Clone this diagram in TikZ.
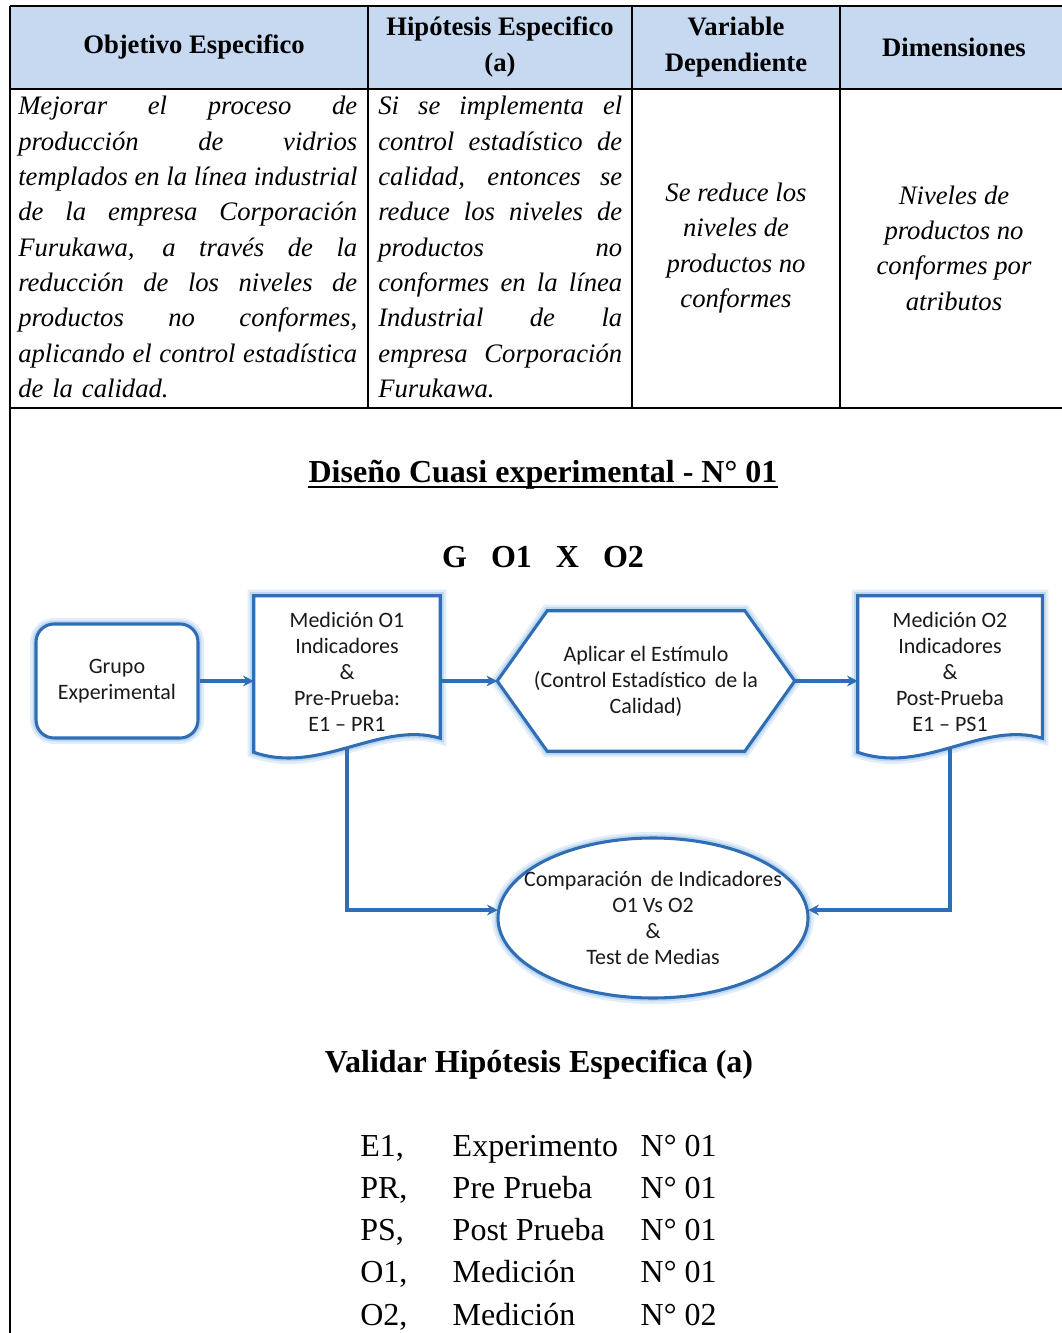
\documentclass[tikz,border=0pt]{standalone}
\usepackage{fontspec}
\setmainfont{Liberation Serif}
\newfontfamily\calibri{Carlito}
\usepackage{tikz}
\usetikzlibrary{arrows.meta,backgrounds}
\newlength\upx
\setlength\upx{0.75pt}
\definecolor{azul}{HTML}{2F6DB5}
\definecolor{brillo}{HTML}{9CC3E8}
\definecolor{cabecera}{HTML}{C6D9F1}
\definecolor{letra}{HTML}{1A1A1A}
% lineas justificadas a mano
\newcommand\jl[2]{\leavevmode\hbox to #1{\spaceskip=\fontdimen2\font plus 1fil\relax#2}}
\newcommand\ja{\jl{339\upx}}
\newcommand\jb{\jl{244\upx}}
\newcommand\documento[1]{%
  \draw[forma] (#1.north west) -- (#1.north east) -- ([yshift=10\upx]#1.south east)
    .. controls +(-60,-18) and +(66,23) .. ([yshift=-4\upx]#1.south west) -- cycle;}
\tikzset{
  tabla/.style   = {black,line width=1.3pt},
  gruesa/.style  = {black,line width=2.2pt},
  encab/.style   = {font=\fontsize{20}{26.5}\selectfont\bfseries,align=center,inner sep=0pt},
  celda/.style   = {font=\fontsize{20}{26.5}\selectfont\itshape,align=left,inner sep=0pt,
                    anchor=north west,text width=#1},
  celdac/.style  = {font=\fontsize{20}{26.5}\selectfont\itshape,align=center,inner sep=0pt},
  titulo/.style  = {font=\fontsize{24}{30}\selectfont\bfseries,inner sep=0pt,anchor=base},
  brilla/.style  = {preaction={draw=brillo,line width=12\upx,opacity=.3},
                    preaction={draw=brillo,line width=7\upx,opacity=.5}},
  forma/.style   = {draw=azul,line width=2.3pt,fill=white,brilla},
  caja/.style    = {font=\calibri\fontsize{16.5}{19.5}\selectfont,text=letra,align=center,inner sep=0pt},
  flecha/.style  = {-{Stealth[length=8pt,width=8pt]},azul,line width=2.3pt}
}

\begin{document}
\begin{tikzpicture}[x=0.75pt,y=-0.75pt]
  \useasboundingbox (0,0) rectangle (1062,1333);
  % tabla
  \fill[cabecera] (10,6) rectangle (1062,89);
  \draw[tabla] (10,6) -- (1062,6);
  \draw[gruesa] (10,89) -- (1062,89);
  \draw[gruesa] (10,408) -- (1062,408);
  \foreach \x in {368,632,840} { \draw[tabla] (\x,6) -- (\x,408); }
  \draw[tabla] (10,6) -- (10,1333);

  \node[encab] (h1) at (194,47) {Objetivo Especifico};
  \node[encab] (h2) at (500,47) {Hipótesis Especifico\\(a)};
  \node[encab] (h3) at (736,47) {Variable\\Dependiente};
  \node[encab] (h4) at (954,47) {Dimensiones};

  \node[celda=339\upx] (obj) at (18,96) {\ja{Mejorar el proceso de}\\
    \ja{producción de vidrios}\\\ja{templados en la línea industrial}\\
    \ja{de la empresa Corporación}\\\ja{Furukawa, a través de la}\\
    \ja{reducción de los niveles de}\\\ja{productos no conformes,}\\
    \ja{aplicando el control estadística}\\de la calidad.};
  \node[celda=244\upx] (hip) at (378,96) {\jb{Si se implementa el}\\
    \jb{control estadístico de}\\\jb{calidad, entonces se}\\
    \jb{reduce los niveles de}\\\jb{productos no}\\\jb{conformes en la línea}\\
    \jb{Industrial de la}\\\jb{empresa Corporación}\\Furukawa.};
  \node[celdac] (var) at (736,248) {Se reduce los\\niveles de\\productos no\\conformes};
  \node[celdac] (dim) at (954,248) {Niveles de\\productos no\\conformes por\\atributos};

  % diseño
  \node[titulo] (dis) at (543,482) {Diseño Cuasi experimental - N° 01};
  \draw[line width=1.5pt] ([yshift=-5\upx]dis.base west) -- ([yshift=-5\upx]dis.base east);
  \node[titulo] (gox) at (543,567) {G~~~O1~~~X~~~O2};

  \node[forma,caja,rounded corners=18\upx,minimum width=162\upx,minimum height=114\upx]
    (grp) at (117,681) {Grupo\\Experimental};
  \node[caja,minimum width=186\upx,minimum height=152\upx] (m1) at (347,672)
    {Medición O1\\Indicadores\\\&\\Pre-Prueba:\\E1 – PR1};
  \node[caja,minimum width=297\upx,minimum height=140\upx] (est) at (646,681)
    {Aplicar el Estímulo\\(Control Estadístico\, de la\\Calidad)};
  \node[caja,minimum width=184\upx,minimum height=152\upx] (m2) at (950,672)
    {Medición O2\\Indicadores\\\&\\Post-Prueba\\E1 – PS1};
  \node[caja,minimum width=310\upx,minimum height=160\upx] (cmp) at (653,918)
    {Comparación\, de Indicadores\\O1 Vs O2\\\&\\Test de Medias};

  \begin{scope}[on background layer]
    \documento{m1}
    \documento{m2}
    \draw[forma] (est.west) -- ([xshift=50\upx]est.north west) -- ([xshift=-50\upx]est.north east)
      -- (est.east) -- ([xshift=-50\upx]est.south east) -- ([xshift=50\upx]est.south west) -- cycle;
    \draw[forma] (cmp.center) ellipse [x radius=155, y radius=80];
  \end{scope}

  \draw[flecha] (grp.east) -- (grp.east -| m1.west);
  \draw[flecha] (m1.east |- grp.east) -- (est.west);
  \draw[flecha] (est.east) -- (est.east -| m2.west);
  \draw[flecha] (m1.south) |- ([yshift=8\upx]cmp.west);
  \draw[flecha] (m2.south) |- ([yshift=8\upx]cmp.east);

  % validar
  \node[titulo] (val) at (539,1072) {Validar Hipótesis Especifica (a)};
  \node[anchor=base west,inner sep=0pt,font=\fontsize{24}{31.7}\selectfont] (ley) at (360,1156)
    {\begin{tabular}[t]{@{}l@{\hspace{34pt}}l@{\hspace{17pt}}l@{}}
      E1, & Experimento & N° 01\\
      PR, & Pre Prueba  & N° 01\\
      PS, & Post Prueba & N° 01\\
      O1, & Medición    & N° 01\\
      O2, & Medición    & N° 02
    \end{tabular}};
\end{tikzpicture}
\end{document}
